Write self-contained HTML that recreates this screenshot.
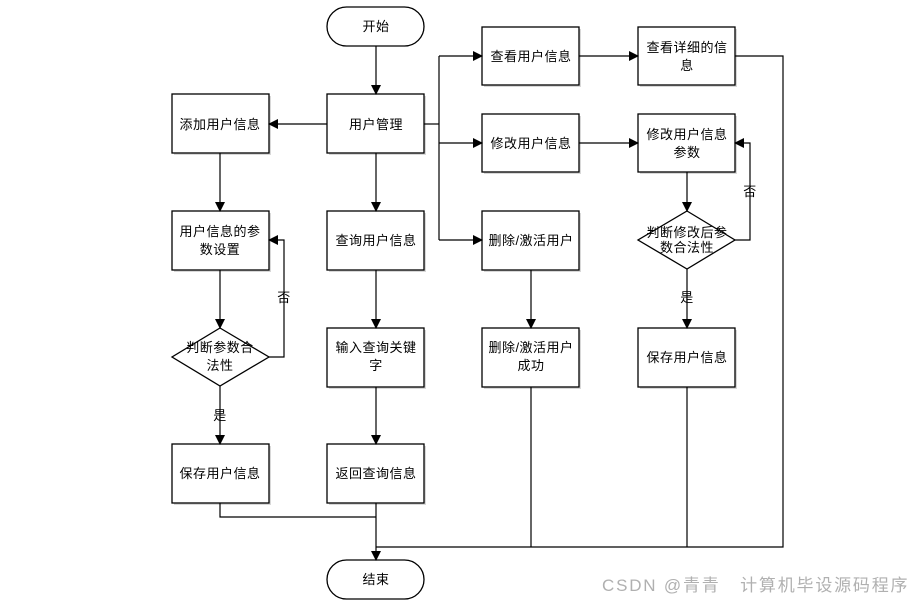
<!DOCTYPE html>
<html><head><meta charset="utf-8"><style>
html,body{margin:0;padding:0;background:#fff;}
svg{display:block;}
text{font-family:"Liberation Sans","Noto Sans CJK SC",sans-serif;font-size:13px;fill:#000;letter-spacing:0.5px;}
.wm{font-size:17px;fill:#b0b0b0;letter-spacing:1.8px;}
</style></head><body>
<svg width="920" height="604" viewBox="0 0 920 604" xmlns="http://www.w3.org/2000/svg">
<defs>
<marker id="a" markerWidth="10" markerHeight="10" refX="9" refY="5" orient="auto" markerUnits="userSpaceOnUse">
<path d="M0,0 L10,5 L0,10 Z" fill="#000"/></marker>
</defs>
<g fill="#fff" stroke="#000" stroke-width="1.3">
<g stroke="none" fill="#d8d8d8">
<rect x="174" y="96" width="97" height="59"/><rect x="329" y="96" width="97" height="59"/>
<rect x="174" y="213" width="97" height="59"/><rect x="329" y="213" width="97" height="59"/>
<rect x="484" y="29" width="97" height="58"/><rect x="640" y="29" width="97" height="58"/>
<rect x="484" y="116" width="97" height="58"/><rect x="640" y="116" width="97" height="58"/>
<rect x="484" y="213" width="97" height="59"/>
<rect x="329" y="330" width="97" height="59"/><rect x="484" y="330" width="97" height="59"/><rect x="640" y="330" width="97" height="59"/>
<rect x="174" y="446" width="97" height="59"/><rect x="329" y="446" width="97" height="59"/>
</g>
<rect x="327" y="7" width="97" height="39" rx="19.5"/>
<rect x="327" y="560" width="97" height="39" rx="19.5"/>
<rect x="172" y="94" width="97" height="59"/><rect x="327" y="94" width="97" height="59"/>
<rect x="172" y="211" width="97" height="59"/><rect x="327" y="211" width="97" height="59"/>
<rect x="482" y="27" width="97" height="58"/><rect x="638" y="27" width="97" height="58"/>
<rect x="482" y="114" width="97" height="58"/><rect x="638" y="114" width="97" height="58"/>
<rect x="482" y="211" width="97" height="59"/>
<rect x="327" y="328" width="97" height="59"/><rect x="482" y="328" width="97" height="59"/><rect x="638" y="328" width="97" height="59"/>
<rect x="172" y="444" width="97" height="59"/><rect x="327" y="444" width="97" height="59"/>
<polygon points="220,328 269,357 220,386 172,357"/>
<polygon points="687,211 735,240 687,269 638,240"/>
</g>
<g fill="none" stroke="#000" stroke-width="1.2">
<path d="M376,46 V94" marker-end="url(#a)"/>
<path d="M327,124 H269" marker-end="url(#a)"/>
<path d="M220,153 V211" marker-end="url(#a)"/>
<path d="M376,153 V211" marker-end="url(#a)"/>
<path d="M376,270 V328" marker-end="url(#a)"/>
<path d="M376,387 V444" marker-end="url(#a)"/>
<path d="M220,270 V328" marker-end="url(#a)"/>
<path d="M220,386 V444" marker-end="url(#a)"/>
<path d="M269,357 H284 V240 H269" marker-end="url(#a)"/>
<path d="M424,124 H439"/>
<path d="M439,56 V240"/>
<path d="M439,56 H482" marker-end="url(#a)"/>
<path d="M439,143 H482" marker-end="url(#a)"/>
<path d="M439,240 H482" marker-end="url(#a)"/>
<path d="M579,56 H638" marker-end="url(#a)"/>
<path d="M579,143 H638" marker-end="url(#a)"/>
<path d="M687,172 V211" marker-end="url(#a)"/>
<path d="M735,240 H750 V143 H735" marker-end="url(#a)"/>
<path d="M687,269 V328" marker-end="url(#a)"/>
<path d="M531,270 V328" marker-end="url(#a)"/>
<path d="M735,56 H783 V547 H376"/>
<path d="M531,387 V547"/>
<path d="M687,387 V547"/>
<path d="M220,503 V517 H376"/>
<path d="M376,503 V560" marker-end="url(#a)"/>
</g>
<g text-anchor="middle">
<text x="376" y="31">开始</text>
<text x="376" y="584">结束</text>
<text x="376" y="129">用户管理</text>
<text x="220" y="129">添加用户信息</text>
<text x="220" y="236">用户信息的参</text>
<text x="220" y="254">数设置</text>
<text x="376" y="245">查询用户信息</text>
<text x="220" y="352">判断参数合</text>
<text x="220" y="370">法性</text>
<text x="220" y="420" font-size="11">是</text>
<text x="284" y="302" font-size="11">否</text>
<text x="220" y="478">保存用户信息</text>
<text x="376" y="352">输入查询关键</text>
<text x="376" y="370">字</text>
<text x="376" y="478">返回查询信息</text>
<text x="531" y="61">查看用户信息</text>
<text x="687" y="52">查看详细的信</text>
<text x="687" y="70">息</text>
<text x="531" y="148">修改用户信息</text>
<text x="687" y="139">修改用户信息</text>
<text x="687" y="157">参数</text>
<text x="531" y="245">删除/激活用户</text>
<text x="687" y="237" font-size="11">判断修改后参</text>
<text x="687" y="252" font-size="11">数合法性</text>
<text x="750" y="196" font-size="11">否</text>
<text x="687" y="302" font-size="11">是</text>
<text x="531" y="352">删除/激活用户</text>
<text x="531" y="370">成功</text>
<text x="687" y="362">保存用户信息</text>
</g>
<text class="wm" x="602" y="591">CSDN @青青&#160;&#160;&#160;计算机毕设源码程序</text>
</svg>
</body></html>
